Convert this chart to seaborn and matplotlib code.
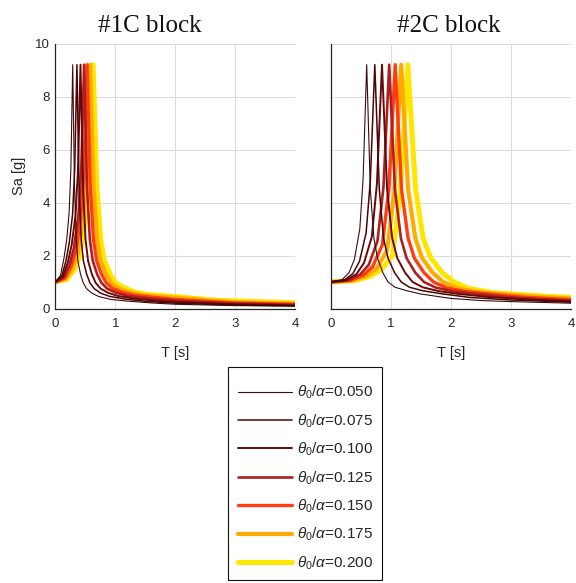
import matplotlib
matplotlib.use("Agg")
import matplotlib.pyplot as plt
import pandas as pd
import seaborn as sns
from matplotlib.lines import Line2D
from matplotlib.patches import Rectangle

# theta0/alpha ratios and line styling
ratios = ["0.050", "0.075", "0.100", "0.125", "0.150", "0.175", "0.200"]
colors = ["#3a0c0c", "#4a0404", "#6a0808", "#ae2020", "#ff3c12", "#ffab00", "#ffe600"]
widths = [0.8, 1.1, 1.4, 1.9, 2.4, 3.0, 3.6]

# ---- #1C block spectra (T [s], Sa [g]) ----
T_1C_050 = [0, 0.087, 0.145, 0.19, 0.23, 0.26, 0.29, 0.32, 0.35, 0.375, 0.42, 0.465, 0.52, 0.61, 0.725, 0.93, 1.2, 1.6, 2.0, 3.0, 4.0]
Sa_1C_050 = [1.0, 1.25, 1.9, 2.6, 3.6, 5.3, 9.2, 4.6, 2.6, 1.8, 1.3, 0.97, 0.75, 0.58, 0.45, 0.34, 0.28, 0.21, 0.16, 0.11, 0.09]
T_1C_075 = [0, 0.108, 0.18, 0.234, 0.288, 0.324, 0.36, 0.396, 0.432, 0.468, 0.522, 0.576, 0.648, 0.756, 0.9, 1.15, 1.5, 2.0, 3.0, 4.0]
Sa_1C_075 = [1.0, 1.22, 1.82, 2.5, 3.55, 5.3, 9.2, 4.6, 2.6, 1.8, 1.3, 0.97, 0.75, 0.58, 0.46, 0.36, 0.27, 0.2, 0.13, 0.1]
T_1C_100 = [0, 0.126, 0.21, 0.273, 0.336, 0.378, 0.42, 0.462, 0.504, 0.546, 0.609, 0.672, 0.756, 0.882, 1.05, 1.34, 1.7, 2.0, 3.0, 4.0]
Sa_1C_100 = [1.0, 1.2, 1.75, 2.4, 3.5, 5.2, 9.2, 4.6, 2.6, 1.8, 1.3, 0.97, 0.75, 0.59, 0.47, 0.37, 0.29, 0.25, 0.16, 0.12]
T_1C_125 = [0, 0.144, 0.24, 0.312, 0.384, 0.432, 0.48, 0.528, 0.576, 0.624, 0.696, 0.768, 0.864, 1.008, 1.2, 1.536, 2.0, 3.0, 4.0]
Sa_1C_125 = [1.0, 1.17, 1.67, 2.3, 3.5, 5.2, 9.2, 4.6, 2.6, 1.8, 1.3, 0.97, 0.75, 0.6, 0.48, 0.39, 0.3, 0.19, 0.14]
T_1C_150 = [0, 0.159, 0.265, 0.345, 0.424, 0.477, 0.53, 0.583, 0.636, 0.689, 0.769, 0.848, 0.954, 1.113, 1.325, 1.696, 2.0, 3.0, 4.0]
Sa_1C_150 = [1.0, 1.15, 1.6, 2.2, 3.45, 5.1, 9.2, 4.6, 2.6, 1.8, 1.3, 0.97, 0.76, 0.61, 0.5, 0.41, 0.34, 0.21, 0.16]
T_1C_175 = [0, 0.174, 0.29, 0.377, 0.464, 0.522, 0.58, 0.638, 0.696, 0.754, 0.841, 0.928, 1.044, 1.218, 1.45, 1.856, 2.5, 3.0, 4.0]
Sa_1C_175 = [1.0, 1.12, 1.52, 2.1, 3.4, 5.0, 9.2, 4.6, 2.6, 1.8, 1.3, 0.97, 0.77, 0.62, 0.51, 0.43, 0.32, 0.24, 0.18]
T_1C_200 = [0, 0.189, 0.315, 0.41, 0.504, 0.567, 0.63, 0.693, 0.756, 0.819, 0.914, 1.008, 1.134, 1.323, 1.575, 2.016, 2.6, 3.1, 4.0]
Sa_1C_200 = [1.0, 1.1, 1.45, 2.0, 3.4, 5.0, 9.2, 4.6, 2.6, 1.8, 1.3, 0.97, 0.8, 0.62, 0.52, 0.45, 0.32, 0.28, 0.22]

# ---- #2C block spectra (T [s], Sa [g]) ----
T_2C_050 = [0, 0.18, 0.30, 0.39, 0.48, 0.535, 0.595, 0.655, 0.715, 0.775, 0.865, 0.95, 1.07, 1.25, 1.49, 2.0, 2.5, 3.0, 3.5, 4.0]
Sa_2C_050 = [1.0, 1.08, 1.35, 1.85, 3.0, 4.9, 9.2, 4.5, 2.65, 1.9, 1.35, 1.0, 0.8, 0.68, 0.55, 0.38, 0.3, 0.26, 0.23, 0.2]
T_2C_075 = [0, 0.22, 0.365, 0.475, 0.585, 0.655, 0.73, 0.805, 0.875, 0.95, 1.06, 1.17, 1.31, 1.53, 1.83, 2.3, 3.0, 3.5, 4.0]
Sa_2C_075 = [1.0, 1.07, 1.32, 1.78, 2.85, 4.8, 9.2, 4.5, 2.65, 1.9, 1.35, 1.0, 0.8, 0.67, 0.56, 0.42, 0.32, 0.28, 0.24]
T_2C_100 = [0, 0.255, 0.425, 0.55, 0.68, 0.765, 0.85, 0.935, 1.02, 1.105, 1.235, 1.36, 1.53, 1.785, 2.125, 2.6, 3.2, 4.0]
Sa_2C_100 = [1.0, 1.07, 1.3, 1.72, 2.7, 4.7, 9.2, 4.5, 2.65, 1.9, 1.35, 1.0, 0.8, 0.66, 0.55, 0.44, 0.35, 0.27]
T_2C_125 = [0, 0.29, 0.485, 0.63, 0.775, 0.875, 0.97, 1.065, 1.165, 1.26, 1.405, 1.55, 1.745, 2.035, 2.425, 3.0, 3.5, 4.0]
Sa_2C_125 = [1.0, 1.06, 1.28, 1.65, 2.55, 4.6, 9.2, 4.5, 2.65, 1.9, 1.35, 1.0, 0.79, 0.65, 0.55, 0.42, 0.35, 0.3]
T_2C_150 = [0, 0.32, 0.535, 0.695, 0.855, 0.965, 1.07, 1.175, 1.285, 1.39, 1.55, 1.71, 1.925, 2.245, 2.675, 3.2, 4.0]
Sa_2C_150 = [1.0, 1.06, 1.25, 1.58, 2.4, 4.5, 9.2, 4.5, 2.65, 1.9, 1.35, 1.0, 0.78, 0.64, 0.54, 0.43, 0.33]
T_2C_175 = [0, 0.35, 0.585, 0.76, 0.935, 1.055, 1.17, 1.285, 1.405, 1.52, 1.695, 1.87, 2.105, 2.455, 2.925, 3.5, 4.0]
Sa_2C_175 = [1.0, 1.05, 1.22, 1.5, 2.2, 4.4, 9.2, 4.5, 2.65, 1.9, 1.35, 1.0, 0.77, 0.62, 0.53, 0.44, 0.38]
T_2C_200 = [0, 0.385, 0.64, 0.83, 1.025, 1.15, 1.28, 1.41, 1.535, 1.665, 1.855, 2.05, 2.305, 2.69, 3.2, 3.6, 4.0]
Sa_2C_200 = [1.0, 1.05, 1.2, 1.45, 2.0, 4.3, 9.2, 4.5, 2.65, 1.9, 1.35, 1.0, 0.75, 0.6, 0.52, 0.46, 0.42]

blocks = {
    "#1C block": [(T_1C_050, Sa_1C_050), (T_1C_075, Sa_1C_075), (T_1C_100, Sa_1C_100),
                  (T_1C_125, Sa_1C_125), (T_1C_150, Sa_1C_150), (T_1C_175, Sa_1C_175),
                  (T_1C_200, Sa_1C_200)],
    "#2C block": [(T_2C_050, Sa_2C_050), (T_2C_075, Sa_2C_075), (T_2C_100, Sa_2C_100),
                  (T_2C_125, Sa_2C_125), (T_2C_150, Sa_2C_150), (T_2C_175, Sa_2C_175),
                  (T_2C_200, Sa_2C_200)],
}

rows = []
for name, curves in blocks.items():
    for ratio, (Ts, Sas) in zip(ratios, curves):
        for t, s in zip(Ts, Sas):
            rows.append({"block": name, "ratio": ratio, "T": t, "Sa": s})
df = pd.DataFrame(rows)

sns.set_style("white")
plt.rcParams["font.family"] = ["Liberation Sans", "DejaVu Sans"]
plt.rcParams["mathtext.fontset"] = "custom"
plt.rcParams["mathtext.rm"] = "Liberation Sans"
plt.rcParams["mathtext.it"] = "Liberation Sans:italic"

W, H = 576, 583
fig = plt.figure(figsize=(W / 100, H / 100), dpi=100)
ax_w, ax_h = 240 / W, 265 / H
ax_b = (H - 308.5) / H
axes = [fig.add_axes([55.3 / W, ax_b, ax_w, ax_h]),
        fig.add_axes([331.0 / W, ax_b, ax_w, ax_h])]
title_x = [0.395, 0.49]
axis_col = "#262626"

for ax, (name, _), tx in zip(axes, blocks.items(), title_x):
    sub = df[df["block"] == name]
    # draw from the widest (0.200) down to the thinnest (0.050)
    for ratio, col, lw in list(zip(ratios, colors, widths))[::-1]:
        d = sub[sub["ratio"] == ratio]
        sns.lineplot(data=d, x="T", y="Sa", color=col, linewidth=lw,
                     estimator=None, sort=False, legend=False, ax=ax)
    ax.set_xlim(0, 4)
    ax.set_ylim(0, 10)
    ax.set_xticks([0, 1, 2, 3, 4])
    ax.set_yticks([0, 2, 4, 6, 8, 10])
    ax.grid(True, color="#dcdcdc", linewidth=0.8)
    ax.set_axisbelow(True)
    for s in ("top", "right"):
        ax.spines[s].set_visible(False)
    for s in ("left", "bottom"):
        ax.spines[s].set_color(axis_col)
        ax.spines[s].set_linewidth(0.9)
    ax.tick_params(direction="in", length=3.5, width=0.9, color=axis_col,
                   labelsize=9.5, labelcolor=axis_col)
    ax.tick_params(axis="x", pad=7)
    ax.tick_params(axis="y", pad=4)
    ax.set_xlabel("T [s]", fontsize=10.5, color=axis_col)
    ax.xaxis.set_label_coords(0.5, -0.14)
    ax.text(tx, 1.045, name, transform=ax.transAxes, ha="center", va="baseline",
            fontsize=18, family="Liberation Serif", color="#111111")

axes[0].set_ylabel("Sa [g]", fontsize=10.5, color=axis_col)
axes[0].yaxis.set_label_coords(-0.122, 0.5)
axes[1].set_ylabel("")
axes[1].set_yticklabels([])

# legend box drawn as a plain rectangle, entries placed inside it
fig.patches.append(Rectangle((228 / W, 1 - 580 / H), 154 / W, 213 / H,
                             transform=fig.transFigure, facecolor="white",
                             edgecolor="#111111", linewidth=0.8, zorder=0))
handles = [Line2D([], [], color=c, linewidth=w) for c, w in zip(colors, widths)]
labels = [r"$\theta_0/\alpha$=" + r for r in ratios]
fig.legend(handles, labels, loc="upper left", bbox_to_anchor=(238 / W, 1 - 384 / H),
           fontsize=11, frameon=False, handlelength=3.55, handletextpad=0.3,
           labelspacing=0.72, borderpad=0, borderaxespad=0)

fig.savefig("out.png", dpi=100)
